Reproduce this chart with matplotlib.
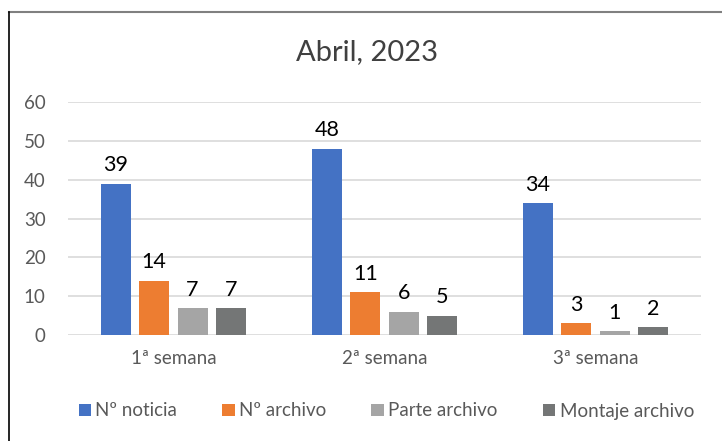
import numpy as np
import matplotlib.pyplot as plt
from matplotlib.lines import Line2D

# data
categories = ['1ª semana', '2ª semana', '3ª semana']
series_names = ['Nº noticia', 'Nº archivo', 'Parte archivo', 'Montaje archivo']
noticia = [39, 48, 34]
archivo = [14, 11, 3]
parte = [7, 6, 1]
montaje = [7, 5, 2]
colors = ['#4472C4', '#ED7D31', '#A5A5A5', '#747676']

plt.rcParams['font.family'] = ['Lato', 'DejaVu Sans']

fig = plt.figure(figsize=(7.22, 4.41), dpi=100)
ax = fig.add_axes([0.094, 0.240, 0.877, 0.529])

x = np.arange(len(categories))
width = 0.142
step = 0.182
for i, (vals, name) in enumerate(zip([noticia, archivo, parte, montaje], series_names)):
    pos = x + (i - 1.5) * step
    bars = ax.bar(pos, vals, width=width, color=colors[i], label=name, zorder=3)
    ax.bar_label(bars, padding=6, fontsize=15.5, color='black')

ax.set_xlim(-0.5, 2.5)
ax.set_ylim(0, 60)
ax.set_yticks(range(0, 61, 10))
ax.set_xticks(x)
ax.set_xticklabels(categories, fontsize=13.5, color='#595959')
ax.tick_params(axis='y', labelsize=13.5, labelcolor='#595959', length=0, pad=16)
ax.tick_params(axis='x', length=0, pad=11)
ax.grid(axis='y', color='#D9D9D9', linewidth=1.2, zorder=0)
for s in ax.spines.values():
    s.set_visible(False)

fig.text(0.508, 0.882, 'Abril, 2023', ha='center', va='center', fontsize=21, color='#404040')

ax.legend(loc='center', ncol=4, frameon=False, fontsize=13.5, handlelength=0.65, handleheight=0.65,
          handletextpad=0.25, columnspacing=2.4, labelcolor='#595959')
leg = ax.get_legend()
leg.set_bbox_to_anchor((0.535, 1 - 411 / 441), transform=fig.transFigure)

# outer frame lines (top and left only)
fig.add_artist(Line2D([9 / 722, 1], [1 - 11.5 / 441, 1 - 11.5 / 441], color='#808080', linewidth=1.5, transform=fig.transFigure))
fig.add_artist(Line2D([9 / 722, 9 / 722], [0, 1 - 11.5 / 441], color='black', linewidth=1.2, transform=fig.transFigure))

fig.savefig('out.png', dpi=100)
